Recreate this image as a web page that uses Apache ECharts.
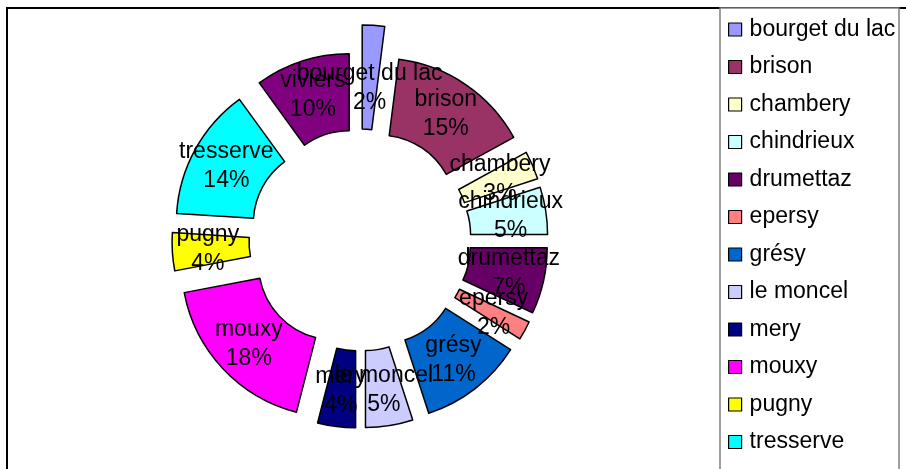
<!DOCTYPE html>
<html>
<head>
<meta charset="utf-8">
<script src="https://cdn.jsdelivr.net/npm/echarts@6/dist/echarts.min.js"></script>
<style>
html,body{margin:0;padding:0;background:#fff;}
#chart{width:906px;height:469px;}
</style>
</head>
<body>
<div id="chart"></div>
<script>
var categories = ['bourget du lac','brison','chambery','chindrieux','drumettaz','epersy','grésy','le moncel','mery','mouxy','pugny','tresserve','viviers'];
var percents = [2,15,3,5,7,2,11,5,4,18,4,14,10];
var colors = ['#9999FF','#993366','#FFFFCC','#CCFFFF','#660066','#FF8080','#0066CC','#CCCCFF','#000080','#FF00FF','#FFFF00','#00FFFF','#800080'];

var FONT = 'Liberation Sans, Arial, sans-serif';
var HIDDEN = {color:'rgba(0,0,0,0)', borderWidth:0, opacity:0};

// the first slice (bourget du lac) is drawn longer in the original picture:
// it gets its own, longer ring; the rest of the ring stays invisible there.
var restValue = percents.slice(1).reduce(function(a,b){return a+b;},0);
var longData = [
  {name:categories[0], value:percents[0], selected:true, itemStyle:{color:colors[0]}},
  {name:'__rest__', value:restValue, selected:true, itemStyle:HIDDEN, select:{itemStyle:HIDDEN}}
];
var mainData = categories.map(function(n,i){
  var d = {name:n, value:percents[i], selected:true, itemStyle:{color:colors[i]}};
  if (i === 0) { d.itemStyle = {color:'rgba(0,0,0,0)', borderWidth:0}; d.select = {itemStyle:{color:'rgba(0,0,0,0)', borderWidth:0}}; }
  return d;
});

var chart = echarts.init(document.getElementById('chart'), null, {renderer:'canvas'});
chart.setOption({
  animation:false,
  graphic:[
    {type:'rect', shape:{x:7,y:8,width:1000,height:1000}, style:{fill:'none',stroke:'#000',lineWidth:2}, z:0},
    {type:'rect', shape:{x:720,y:8,width:179,height:1000}, style:{fill:'#fff',stroke:'#808080',lineWidth:1.5}, z:1}
  ],
  legend:{
    data:categories,
    orient:'vertical',
    left:728, top:18,
    padding:0,
    itemWidth:13, itemHeight:13,
    itemGap:14.5,
    icon:'rect',
    selectedMode:false,
    itemStyle:{borderColor:'#000',borderWidth:1.2, opacity:1},
    textStyle:{fontFamily:FONT, fontSize:23, lineHeight:23, color:'#000', padding:[0,0,0,3]},
    z:5
  },
  series:[{
    type:'pie',
    silent:true,
    center:[360,240],
    radius:[76,180],
    startAngle:90,
    clockwise:true,
    selectedMode:'multiple',
    selectedOffset:35,
    avoidLabelOverlap:false,
    emphasis:{disabled:true},
    select:{itemStyle:{borderColor:'#000',borderWidth:1.5}},
    itemStyle:{borderColor:'#000',borderWidth:1.5},
    label:{show:false},
    labelLine:{show:false},
    data:longData,
    z:2
  },{
    type:'pie',
    center:[360,240],
    radius:[76,153],
    startAngle:90,
    clockwise:true,
    selectedMode:'multiple',
    selectedOffset:35,
    avoidLabelOverlap:false,
    labelLayout:{hideOverlap:false},
    emphasis:{disabled:true},
    select:{itemStyle:{borderColor:'#000',borderWidth:1.5}},
    itemStyle:{borderColor:'#000',borderWidth:1.5},
    label:{
      show:true,
      position:'inside',
      formatter:function(p){return p.name+'\n'+p.value+'%';},
      fontFamily:FONT,
      fontSize:23,
      lineHeight:29,
      color:'#000'
    },
    labelLine:{show:false},
    data:mainData,
    z:3
  }]
});
</script>
</body>
</html>
